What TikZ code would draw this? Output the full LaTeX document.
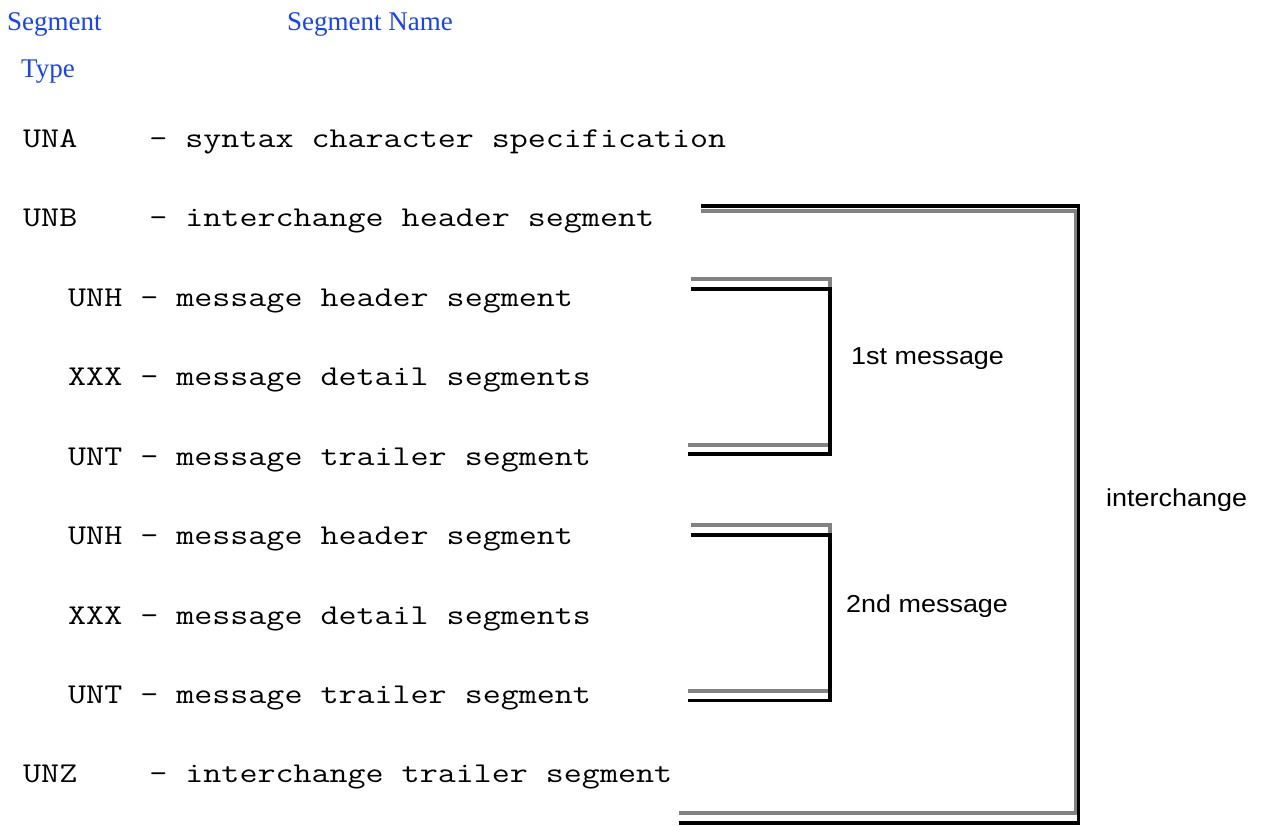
\documentclass[tikz,border=0pt]{standalone}
\usepackage{fontspec}
\usepackage{graphicx}
\setmainfont{Liberation Serif}
\newfontfamily\sansfam{Liberation Sans}
\definecolor{headblue}{RGB}{22,66,255}
\definecolor{shadowgray}{RGB}{130,130,130}
\newcommand{\segtxt}[1]{\scalebox{1}[0.82]{#1}}
\tikzset{
  head/.style={anchor=base west, inner sep=0pt, text=headblue, font=\fontsize{27}{30}\selectfont},
  seg/.style={anchor=base west, inner sep=0pt, font=\ttfamily\fontsize{35.0}{36}\selectfont},
  lab/.style={anchor=base west, inner sep=0pt, font=\sansfam\fontsize{24.5}{28}\selectfont},
  blackline/.style={line width=3.2pt, black},
  grayline/.style={line width=3.2pt, shadowgray},
}
\begin{document}
\begin{tikzpicture}[x=1pt,y=-1pt]
\useasboundingbox (0,0) rectangle (1265,825);
% headings
\node[head] (hseg) at (7,30) {Segment};
\node[head] (hname) at (287,30) {Segment Name};
\node[head] (htype) at (21,77) {Type};
% segment lines
\node[seg] (una) at (23,147) {\segtxt{UNA\ \ \ \ - syntax character specification}};
\node[seg] (unb) at (23,226.5) {\segtxt{UNB\ \ \ \ - interchange header segment}};
\node[seg] (unh1) at (68,306) {\segtxt{UNH - message header segment}};
\node[seg] (xxx1) at (68,385.5) {\segtxt{XXX - message detail segments}};
\node[seg] (unt1) at (68,465) {\segtxt{UNT - message trailer segment}};
\node[seg] (unh2) at (68,544.5) {\segtxt{UNH - message header segment}};
\node[seg] (xxx2) at (68,624) {\segtxt{XXX - message detail segments}};
\node[seg] (unt2) at (68,703.5) {\segtxt{UNT - message trailer segment}};
\node[seg] (unz) at (23,782.5) {\segtxt{UNZ\ \ \ \ - interchange trailer segment}};
% labels
\node[lab] (m1) at (851,364) {\scalebox{1.1}[1]{1st message}};
\node[lab] (m2) at (846,612) {\scalebox{1.1}[1]{2nd message}};
\node[lab] (ic) at (1106,506.5) {\scalebox{1.1}[1]{interchange}};
% bracket coordinates
\coordinate (iTb) at (701,206);
\coordinate (iTg) at (701,211);
\coordinate (iRb) at (1078.5,206);
\coordinate (iRg) at (1076,211);
\coordinate (iBRb) at (1078.5,823);
\coordinate (iBRg) at (1076,813);
\coordinate (iBb) at (679,823);
\coordinate (iBg) at (679,813);
\coordinate (aTg) at (691,279);
\coordinate (aTRg) at (830,279);
\coordinate (aBRg) at (830,445);
\coordinate (aBg) at (688,445);
\coordinate (aTb) at (691,289);
\coordinate (aTRb) at (830,289);
\coordinate (aBRb) at (830,454);
\coordinate (aBb) at (688,454);
\coordinate (bTg) at (691,525);
\coordinate (bTRg) at (830,525);
\coordinate (bBRg) at (830,691);
\coordinate (bBg) at (688,691);
\coordinate (bTb) at (691,535);
\coordinate (bTRb) at (830,535);
\coordinate (bBRb) at (830,700.5);
\coordinate (bBb) at (688,700.5);
% interchange bracket
\draw[grayline] (iTg) -- (iRg) -- (iBRg) -- (iBg);
\draw[blackline] (iTb) -- (iRb) -- (iBRb) -- (iBb);
% 1st message bracket
\draw[grayline] (aTg) -- (aTRg) -- (aBRg) -- (aBg);
\draw[blackline] (aTb) -- (aTRb) -- (aBRb) -- (aBb);
% 2nd message bracket
\draw[grayline] (bTg) -- (bTRg) -- (bBRg) -- (bBg);
\draw[blackline] (bTb) -- (bTRb) -- (bBRb) -- (bBb);
\end{tikzpicture}
\end{document}
